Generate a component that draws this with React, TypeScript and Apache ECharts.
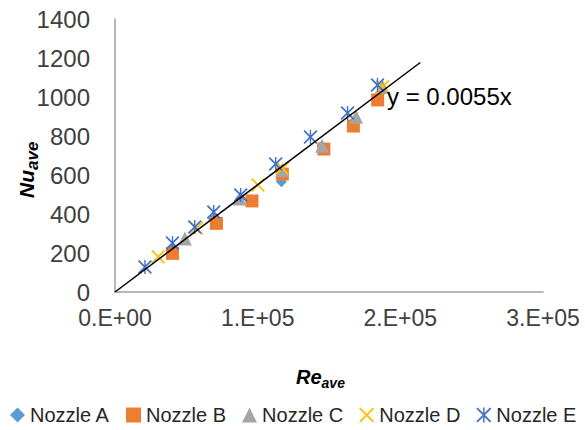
import React, { useEffect, useRef } from "react";
import * as echarts from "echarts";

// Average Reynolds number vs average Nusselt number, per nozzle
const nozzleA_re = [40000, 69000, 88000, 116600, 145000, 167000, 186000];
const nozzleA_nu = [225, 375, 480, 566, 750, 870, 1020];

const nozzleB_re = [40300, 71100, 96000, 117300, 146400, 167100, 184100];
const nozzleB_nu = [198, 352, 467, 605, 733, 851, 985];

const nozzleC_re = [49000, 87400, 117300, 145200, 169000, 187600];
const nozzleC_nu = [275, 480, 626, 750, 899, 1053];

const nozzleD_re = [30300, 57100, 100200, 117300, 187600];
const nozzleD_nu = [181, 327, 549, 634, 1053];

const nozzleE_re = [21000, 40300, 55900, 69200, 88100, 112600, 137000, 163000, 184000];
const nozzleE_nu = [128, 251, 333, 410, 497, 656, 795, 918, 1062];

// Linear fit through the origin: Nu = 0.0055 Re
const fitSlope = 0.0055;
const fitRange = [0, 214000];

const xTicks = [0, 100000, 200000, 300000];
const yTicks = [0, 200, 400, 600, 800, 1000, 1200, 1400];

const zip = (xs: number[], ys: number[]) => xs.map((x, i) => [x, ys[i]]);

const sciLabel = (v: number) => {
  if (v === 0) return "0.E+00";
  const exp = Math.floor(Math.log10(Math.abs(v)));
  const mant = Math.round(v / Math.pow(10, exp));
  return `${mant}.E+${String(exp).padStart(2, "0")}`;
};

const crossPath =
  "path://M0,0.9L0.9,0L10,9.1L9.1,10ZM9.1,0L10,0.9L0.9,10L0,9.1Z";
const starPath =
  "path://M0,0.9L0.9,0L10,9.1L9.1,10ZM9.1,0L10,0.9L0.9,10L0,9.1ZM4.5,0L5.5,0L5.5,10L4.5,10Z";

const FONT = "'Liberation Sans', Arial, sans-serif";
const TXT = "#404040";

const titleRich = (main: number, sub: number, drop: number) => ({
  b: { fontSize: main, fontWeight: "bold", fontStyle: "italic", fill: "#000", lineHeight: main + 6, fontFamily: FONT },
  s: { fontSize: sub, fontWeight: "bold", fontStyle: "italic", fill: "#000", lineHeight: sub, padding: [drop, 0, 0, 0], fontFamily: FONT },
});

export default function App() {
  const ref = useRef<HTMLDivElement>(null);

  useEffect(() => {
    if (!ref.current) return;
    const chart = echarts.init(ref.current, undefined, { renderer: "svg" });

    const scatter = (name: string, xs: number[], ys: number[], symbol: string, size: number, color: string) => ({
      name,
      type: "scatter",
      data: zip(xs, ys),
      symbol,
      symbolSize: size,
      itemStyle: { color, opacity: 1 },
      z: 3,
    });

    chart.setOption({
      animation: false,
      textStyle: { fontFamily: FONT },
      grid: { left: 115, right: 42, top: 19, bottom: 138 },
      xAxis: {
        type: "value",
        min: xTicks[0],
        max: xTicks[xTicks.length - 1],
        interval: 100000,
        axisLine: { show: true, lineStyle: { color: "#A0A0A0", width: 1.5 } },
        axisTick: { show: false },
        splitLine: { show: false },
        axisLabel: { formatter: sciLabel, color: TXT, fontSize: 23, margin: 14, fontFamily: FONT },
      },
      yAxis: {
        type: "value",
        min: yTicks[0],
        max: yTicks[yTicks.length - 1],
        interval: 200,
        axisLine: { show: true, lineStyle: { color: "#A0A0A0", width: 1.5 } },
        axisTick: { show: false },
        splitLine: { show: false },
        axisLabel: { formatter: (v: number) => String(v), color: TXT, fontSize: 24, margin: 25, fontFamily: FONT },
      },
      legend: {
        data: ["Nozzle A", "Nozzle B", "Nozzle C", "Nozzle D", "Nozzle E"],
        orient: "horizontal",
        left: 10,
        top: 405,
        width: 575,
        padding: 0,
        itemWidth: 15,
        itemHeight: 15,
        itemGap: 16,
        textStyle: { color: "#262626", fontSize: 20, fontFamily: FONT },
      },
      graphic: [
        {
          type: "text",
          left: 296,
          top: 364,
          style: { text: "{b|Re}{s|ave}", rich: titleRich(20, 14, 12) },
        },
        {
          type: "text",
          x: 13,
          y: 198,
          rotation: Math.PI / 2,
          style: { text: "{b|Nu}{s|ave}", rich: titleRich(21, 17, 11) },
        },
        {
          type: "text",
          x: 387,
          y: 84,
          style: { text: "y = 0.0055x", fontSize: 24, fill: "#000", fontFamily: FONT },
          z: 10,
        },
      ],
      series: [
        scatter("Nozzle A", nozzleA_re, nozzleA_nu, "diamond", 11, "#5B9BD5"),
        scatter("Nozzle B", nozzleB_re, nozzleB_nu, "rect", 13, "#ED7D31"),
        scatter("Nozzle C", nozzleC_re, nozzleC_nu, "triangle", 14, "#A5A5A5"),
        scatter("Nozzle D", nozzleD_re, nozzleD_nu, crossPath, 14, "#FFC000"),
        scatter("Nozzle E", nozzleE_re, nozzleE_nu, starPath, 14, "#4472C4"),
        {
          name: "fit",
          type: "line",
          data: fitRange.map((x) => [x, x * fitSlope]),
          showSymbol: false,
          symbol: "none",
          lineStyle: { color: "#000", width: 1.5 },
          z: 4,
          silent: true,
        },
      ],
    });

    return () => chart.dispose();
  }, []);

  return <div ref={ref} style={{ width: 585, height: 430, position: "absolute", left: 0, top: 0 }} />;
}
